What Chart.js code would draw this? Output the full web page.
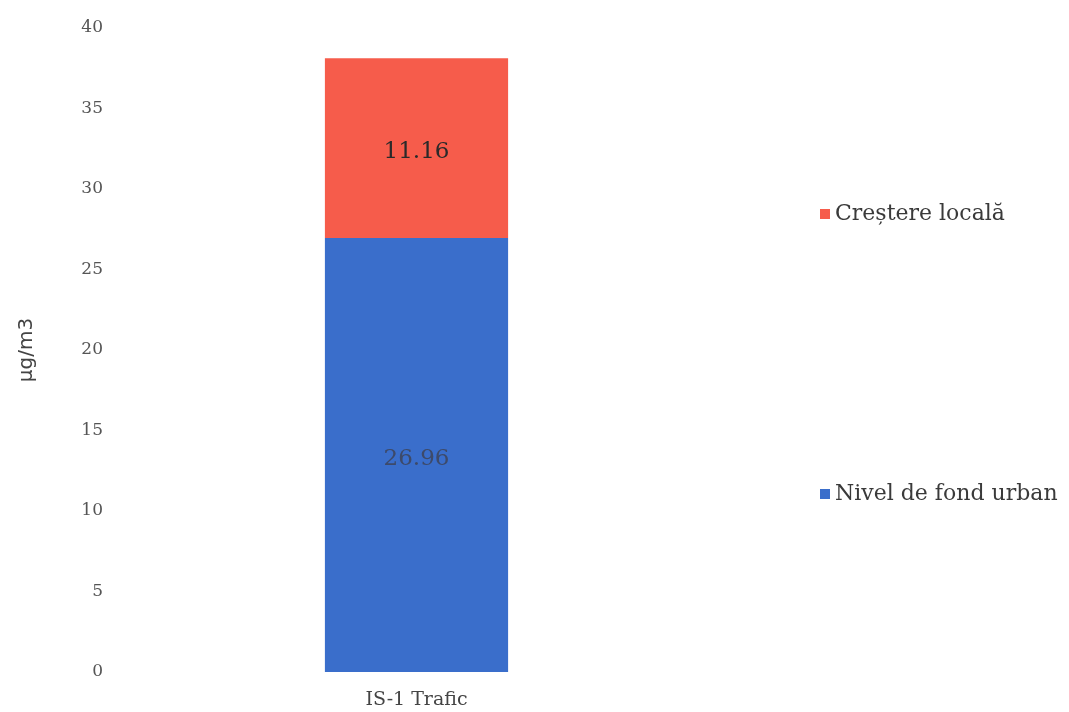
<!DOCTYPE html>
<html>
<head>
<meta charset="utf-8">
<script src="https://cdn.jsdelivr.net/npm/chart.js@4.4.1/dist/chart.umd.min.js"></script>
<style>
  html, body { margin: 0; padding: 0; background: #fff; }
  #wrap { width: 1069px; height: 712px; position: relative; }
</style>
</head>
<body>
<div id="wrap"><canvas id="c"></canvas></div>
<script>
const categories = ['IS-1 Trafic'];
const seriesNames = ['Nivel de fond urban', 'Creștere locală'];
const fondUrban = [26.96];
const cresterLocala = [11.16];
const yTicks = [0, 5, 10, 15, 20, 25, 30, 35, 40];

const colors = ['#3a6ecb', '#f65c4b'];
const serif = '"DejaVu Serif", "Liberation Serif", serif';

// value labels in the middle of each segment
const valueLabels = {
  id: 'valueLabels',
  afterDatasetsDraw(chart) {
    const ctx = chart.ctx;
    ctx.save();
    ctx.font = '23px ' + serif;
    ctx.textAlign = 'center';
    ctx.textBaseline = 'middle';
    chart.data.datasets.forEach((ds, i) => {
      chart.getDatasetMeta(i).data.forEach((bar, j) => {
        const p = bar.getProps(['x', 'y', 'base'], true);
        ctx.fillStyle = i === 0 ? '#3d4a6a' : '#2a2a2a';
        ctx.fillText(ds.data[j].toFixed(2), p.x, (p.y + p.base) / 2 + 4);
      });
    });
    ctx.restore();
  }
};

// legend on the right, items spread like the original
const sideLegend = {
  id: 'sideLegend',
  afterDraw(chart) {
    const ctx = chart.ctx;
    const items = chart.data.datasets.map((ds) => ({ text: ds.label, color: ds.backgroundColor })).reverse();
    const ys = [214, 494];
    ctx.save();
    ctx.font = '22px ' + serif;
    ctx.textBaseline = 'middle';
    items.forEach((it, k) => {
      ctx.fillStyle = it.color;
      ctx.fillRect(820, ys[k] - 5, 10, 10);
      ctx.fillStyle = '#3a3a3a';
      ctx.fillText(it.text, 835, ys[k]);
    });
    ctx.restore();
  }
};

new Chart(document.getElementById('c'), {
  type: 'bar',
  data: {
    labels: categories,
    datasets: [
      { label: seriesNames[0], data: fondUrban, backgroundColor: colors[0] },
      { label: seriesNames[1], data: cresterLocala, backgroundColor: colors[1] },
    ],
  },
  options: {
    responsive: true,
    maintainAspectRatio: false,
    animation: false,
    layout: { padding: { top: 28, right: 357, left: 0, bottom: 0 } },
    categoryPercentage: 0.62,
    barPercentage: 0.5,
    plugins: { legend: { display: false }, tooltip: { enabled: false } },
    scales: {
      x: {
        stacked: true,
        afterFit: (s) => { s.height = 40; },
        grid: { display: false },
        border: { display: false },
        ticks: { color: '#444', font: { family: serif, size: 19 }, padding: 9 },
      },
      y: {
        stacked: true,
        min: 0,
        max: 40,
        afterBuildTicks: (s) => { s.ticks = yTicks.map((v) => ({ value: v })); },
        afterFit: (s) => { s.width = 121; },
        grid: { display: false },
        border: { display: false },
        ticks: { color: '#555', font: { family: serif, size: 17 }, padding: 10 },
        title: { display: true, text: 'µg/m3', color: '#444', font: { family: '"DejaVu Sans", sans-serif', size: 20 }, padding: { top: 15, bottom: 4 } },
      },
    },
  },
  plugins: [valueLabels, sideLegend],
});
</script>
</body>
</html>
